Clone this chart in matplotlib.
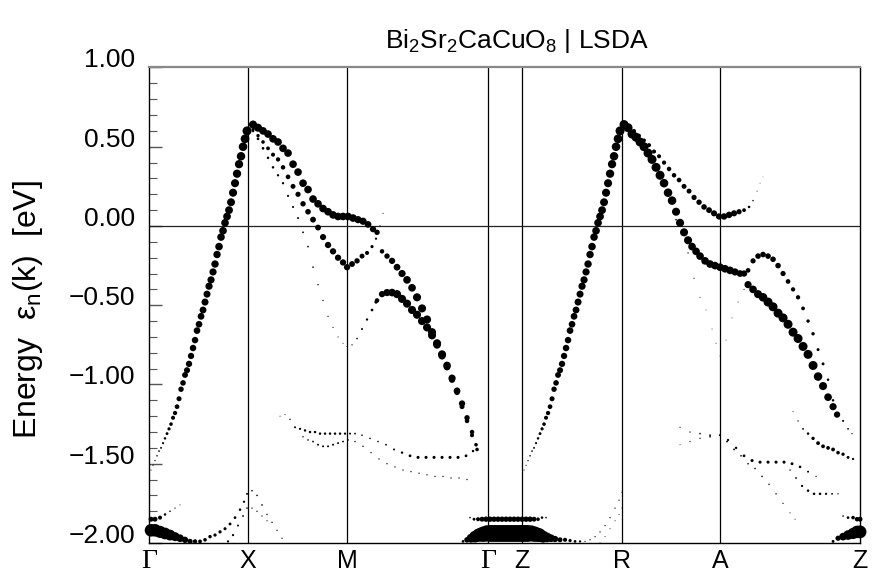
import numpy as np
import matplotlib
matplotlib.use("Agg")
import matplotlib.pyplot as plt
from matplotlib.ticker import MultipleLocator, FuncFormatter

plt.rcParams['font.family'] = ['Liberation Sans', 'DejaVu Sans']

# k-path given as k-point index along the path
sym_k = [0, 99, 198, 339, 373, 473, 571, 711]
sym_labels = ["Γ", "X", "M", "Γ", "Z", "R", "A", "Z"]

# ---- Gamma-X ----
gx_k = [2, 4, 6, 8, 10, 12, 14, 16, 18, 20, 22, 24, 26, 28, 30, 32, 34, 36, 38, 40, 42, 44, 46,
        48, 50, 52, 54, 56, 58, 60, 62, 64, 66, 68, 70, 72, 74, 76, 78, 80, 82, 84, 86, 88, 90,
        92, 94, 96, 98]
gx_e = [-1.54, -1.51, -1.48, -1.45, -1.42, -1.40, -1.37, -1.34, -1.31, -1.28, -1.25, -1.21,
        -1.18, -1.14, -1.09, -1.03, -0.99, -0.94, -0.91, -0.87, -0.82, -0.77, -0.72, -0.66,
        -0.62, -0.57, -0.53, -0.48, -0.43, -0.38, -0.34, -0.29, -0.24, -0.18, -0.13, -0.07,
        -0.03, 0.02, 0.06, 0.10, 0.15, 0.21, 0.27, 0.33, 0.39, 0.44, 0.50, 0.55, 0.60]
gx_w = [0.12, 0.13, 0.15, 0.17, 0.19, 0.21, 0.24, 0.28, 0.32, 0.36, 0.4, 0.45, 0.48, 0.52, 0.56,
        0.6, 0.62, 0.65, 0.67, 0.7, 0.7, 0.72, 0.72, 0.74, 0.74, 0.75, 0.76, 0.78, 0.78, 0.8,
        0.8, 0.8, 0.82, 0.82, 0.84, 0.84, 0.85, 0.85, 0.86, 0.87, 0.88, 0.9, 0.9, 0.92, 0.92,
        0.94, 0.95, 0.97, 1.0]

gx_blob_k = [2, 6, 11, 16, 21, 26, 31, 36, 41, 46, 51, 56, 61, 66, 71, 76, 81, 86, 91, 95, 98]
gx_blob_e = [-1.92, -1.92, -1.93, -1.94, -1.95, -1.96, -1.97, -1.98, -1.99, -1.99, -1.99, -1.98,
             -1.96, -1.95, -1.93, -1.91, -1.88, -1.84, -1.79, -1.74, -1.69]
gx_blob_w = [1.4, 1.4, 1.35, 1.3, 1.2, 1.0, 0.85, 0.7, 0.58, 0.48, 0.42, 0.4, 0.38, 0.36, 0.36,
             0.34, 0.32, 0.3, 0.28, 0.25, 0.22]

gx_185_k = [2, 6, 11, 16, 21, 26, 31]
gx_185_e = [-1.85, -1.85, -1.84, -1.82, -1.80, -1.78, -1.76]
gx_185_w = [0.55, 0.55, 0.45, 0.28, 0.18, 0.14, 0.11]

gx_rise_k = [79, 84, 89, 94, 98]
gx_rise_e = [-1.99, -1.95, -1.89, -1.83, -1.78]
gx_rise_w = [0.25, 0.25, 0.22, 0.2, 0.18]

# ---- X-M-Gamma ----
xm_top_k = [104, 109, 114, 119, 124, 129, 134, 139, 144, 149, 154, 159, 164, 169, 174, 179, 184,
            189, 194, 199, 204, 209, 214, 219, 224, 228]
xm_top_e = [0.64, 0.62, 0.60, 0.58, 0.55, 0.53, 0.49, 0.46, 0.39, 0.34, 0.27, 0.23, 0.17, 0.14,
            0.11, 0.09, 0.07, 0.06, 0.06, 0.06, 0.05, 0.04, 0.03, 0.01, -0.02, -0.04]
xm_top_w = [0.9, 0.9, 0.85, 0.85, 0.85, 0.85, 0.85, 0.85, 0.85, 0.85, 0.85, 0.85, 0.85, 0.85,
            0.85, 0.85, 0.85, 0.85, 0.85, 0.85, 0.85, 0.8, 0.8, 0.75, 0.7, 0.6]

xm_mid_k = [104, 109, 114, 119, 124, 129, 134, 139, 144, 149, 154, 159, 164, 169, 174, 179, 184,
            189, 194, 198, 203, 208, 213, 218, 223, 227, 231, 234]
xm_mid_e = [0.61, 0.57, 0.53, 0.49, 0.45, 0.42, 0.37, 0.31, 0.25, 0.20, 0.14, 0.09, 0.04, -0.01,
            -0.07, -0.12, -0.16, -0.20, -0.23, -0.26, -0.24, -0.22, -0.19, -0.17, -0.13, -0.08,
            0.0, 0.08]
xm_mid_w = [0.35, 0.38, 0.4, 0.42, 0.45, 0.48, 0.5, 0.52, 0.55, 0.58, 0.6, 0.62, 0.65, 0.65,
            0.68, 0.7, 0.7, 0.7, 0.7, 0.7, 0.65, 0.6, 0.55, 0.45, 0.35, 0.25, 0.15, 0.12]

xm_low_k = [104, 109, 114, 119, 124, 129, 134, 139, 144, 149, 154, 159, 164, 169, 174, 179, 184,
            189, 194, 198, 203, 208, 213, 218, 223, 227]
xm_low_e = [0.60, 0.55, 0.49, 0.43, 0.37, 0.32, 0.27, 0.19, 0.12, 0.05, -0.04, -0.13, -0.26,
            -0.37, -0.47, -0.57, -0.64, -0.70, -0.74, -0.76, -0.75, -0.71, -0.65, -0.59, -0.53,
            -0.48]
xm_low_w = [0.3, 0.3, 0.3, 0.28, 0.28, 0.26, 0.26, 0.24, 0.23, 0.22, 0.2, 0.19, 0.18, 0.16, 0.15,
            0.14, 0.13, 0.12, 0.11, 0.11, 0.14, 0.18, 0.22, 0.26, 0.3, 0.36]

mg_up_k = [233, 238, 243, 248, 253, 258, 263, 268, 273, 278, 283, 288, 293, 298, 303, 308, 313,
           318, 323, 327]
mg_up_e = [-0.16, -0.19, -0.22, -0.26, -0.30, -0.34, -0.39, -0.45, -0.52, -0.59, -0.67, -0.74,
           -0.81, -0.88, -0.96, -1.04, -1.12, -1.21, -1.30, -1.38]
mg_up_w = [0.5, 0.6, 0.7, 0.75, 0.8, 0.85, 0.85, 0.9, 0.9, 0.9, 0.9, 0.9, 0.9, 0.85, 0.8, 0.75,
           0.7, 0.6, 0.5, 0.4]

mg_lo_k = [228, 233, 238, 243, 248, 253, 258, 263, 268, 273, 278, 283, 288, 293, 298, 303, 308,
           313, 318, 323, 328]
mg_lo_e = [-0.47, -0.43, -0.42, -0.42, -0.43, -0.46, -0.49, -0.53, -0.56, -0.60, -0.64, -0.69,
           -0.75, -0.82, -0.89, -0.97, -1.05, -1.14, -1.23, -1.32, -1.41]
mg_lo_w = [0.5, 0.7, 0.8, 0.85, 0.9, 0.9, 0.9, 0.9, 0.9, 0.9, 0.9, 0.9, 0.85, 0.8, 0.75, 0.7,
           0.6, 0.55, 0.5, 0.45, 0.4]

xm_fall1_k = [103, 108, 113, 118, 123, 128, 133]
xm_fall1_e = [-1.67, -1.70, -1.76, -1.82, -1.87, -1.92, -1.97]
xm_fall1_w = [0.18, 0.18, 0.18, 0.16, 0.16, 0.15, 0.14]

xm_fall2_k = [103, 108, 113, 118]
xm_fall2_e = [-1.78, -1.80, -1.83, -1.86]
xm_fall2_w = [0.15, 0.15, 0.14, 0.13]

xm_f1_k = [131, 136, 141, 146, 151, 156, 161, 166, 171, 176, 181, 186, 191, 196, 201, 206, 213,
           221, 229, 237, 245, 253, 261, 269, 277, 285, 293, 301, 309, 317, 324]
xm_f1_e = [-1.20, -1.19, -1.22, -1.27, -1.28, -1.29, -1.30, -1.30, -1.31, -1.31, -1.31, -1.31,
           -1.31, -1.31, -1.31, -1.31, -1.32, -1.34, -1.36, -1.38, -1.41, -1.43, -1.45, -1.46,
           -1.46, -1.46, -1.46, -1.46, -1.46, -1.45, -1.42]
xm_f1_w = [0.11, 0.11, 0.16, 0.22, 0.25, 0.27, 0.27, 0.27, 0.27, 0.27, 0.27, 0.27, 0.27, 0.25,
           0.22, 0.2, 0.18, 0.18, 0.18, 0.2, 0.22, 0.27, 0.31, 0.34, 0.34, 0.34, 0.34, 0.34, 0.34,
           0.31, 0.27]

xm_f2_k = [154, 159, 164, 169, 174, 179, 184, 189, 194, 199, 206, 214, 222, 230, 238, 246, 254,
           262, 270, 278, 286, 294, 302, 310, 318]
xm_f2_e = [-1.33, -1.35, -1.36, -1.38, -1.39, -1.39, -1.38, -1.37, -1.36, -1.35, -1.36, -1.39,
           -1.43, -1.47, -1.50, -1.52, -1.54, -1.55, -1.56, -1.57, -1.58, -1.58, -1.59, -1.59,
           -1.60]
xm_f2_w = [0.16, 0.18, 0.2, 0.22, 0.22, 0.22, 0.22, 0.22, 0.2, 0.18, 0.16, 0.16, 0.15, 0.15, 0.15,
           0.15, 0.15, 0.15, 0.15, 0.15, 0.15, 0.15, 0.15, 0.15, 0.15]

# ---- Gamma-Z and bottom of the window ----
gz_185_k = [321, 325, 329, 333, 337, 341, 345, 349, 353, 357, 361, 365, 369, 373, 377, 381, 385,
            389, 393, 397]
gz_185_e = [-1.84, -1.85, -1.85, -1.85, -1.85, -1.85, -1.85, -1.85, -1.85, -1.85, -1.85, -1.85,
            -1.85, -1.85, -1.85, -1.85, -1.85, -1.85, -1.84, -1.84]
gz_185_w = [0.18, 0.32, 0.45, 0.55, 0.6, 0.6, 0.6, 0.6, 0.6, 0.6, 0.6, 0.6, 0.6, 0.6, 0.6, 0.6,
            0.55, 0.4, 0.28, 0.18]

gz_blob_k = [314, 318, 322, 326, 330, 334, 338, 342, 346, 350, 354, 358, 362, 366, 370, 374, 378,
             382, 386, 390, 394, 398, 402, 406, 411, 416, 421, 426, 431]
gz_blob_e = [-1.99, -1.98, -1.97, -1.96, -1.95, -1.945, -1.94, -1.94, -1.94, -1.94, -1.94, -1.94,
             -1.94, -1.94, -1.94, -1.94, -1.94, -1.94, -1.945, -1.95, -1.96, -1.965, -1.97,
             -1.975, -1.98, -1.98, -1.985, -1.99, -1.99]
gz_blob_w = [0.3, 0.62, 0.98, 1.3, 1.5, 1.7, 1.82, 1.88, 1.88, 1.88, 1.88, 1.88, 1.88, 1.88, 1.88,
             1.88, 1.88, 1.8, 1.7, 1.55, 1.33, 1.07, 0.85, 0.7, 0.55, 0.45, 0.36, 0.3, 0.25]

# ---- Z-R (main band has the same shape as Gamma-X) ----
zr_k = [373 + k for k in gx_k]
zr_e = gx_e
zr_w = gx_w

zr_rise1_k = [436, 441, 446, 451, 456, 461, 466, 470, 473]
zr_rise1_e = [-1.99, -1.98, -1.96, -1.93, -1.89, -1.84, -1.78, -1.73, -1.68]
zr_rise1_w = [0.14, 0.14, 0.14, 0.14, 0.14, 0.14, 0.14, 0.14, 0.14]

zr_rise2_k = [451, 456, 461, 466, 470, 473]
zr_rise2_e = [-2.0, -1.96, -1.91, -1.86, -1.82, -1.78]
zr_rise2_w = [0.11, 0.11, 0.11, 0.11, 0.11, 0.11]

# ---- R-A-Z ----
ra_top_k = [475, 480, 485, 490, 495, 500, 505, 510, 515, 520, 525, 530, 535, 540, 545, 550, 555,
            560, 565, 570, 575, 580, 585, 590, 595, 600, 604, 608, 611, 614]
ra_top_e = [0.64, 0.62, 0.60, 0.57, 0.54, 0.51, 0.47, 0.44, 0.40, 0.36, 0.32, 0.29, 0.25, 0.22,
            0.18, 0.15, 0.12, 0.10, 0.08, 0.06, 0.06, 0.07, 0.08, 0.09, 0.10, 0.12, 0.16, 0.22,
            0.27, 0.31]
ra_top_w = [0.42, 0.42, 0.42, 0.42, 0.42, 0.45, 0.45, 0.45, 0.47, 0.5, 0.5, 0.52, 0.55, 0.55, 0.58,
            0.6, 0.62, 0.65, 0.68, 0.7, 0.72, 0.72, 0.68, 0.58, 0.42, 0.28, 0.17, 0.11, 0.09, 0.07]

ra_thk_k = [475, 479, 483, 487, 491, 495, 499, 503, 507, 511, 515, 519, 523, 527, 531, 535, 539,
            543, 547, 551, 556, 561, 566, 571, 576, 581, 586, 591, 595]
ra_thk_e = [0.64, 0.62, 0.58, 0.56, 0.53, 0.50, 0.46, 0.42, 0.37, 0.32, 0.27, 0.21, 0.16, 0.09,
            0.02, -0.04, -0.09, -0.13, -0.16, -0.19, -0.22, -0.24, -0.25, -0.26, -0.27, -0.28,
            -0.29, -0.30, -0.30]
ra_thk_w = [1.0, 1.0, 1.0, 1.0, 1.0, 1.0, 1.0, 1.0, 1.0, 1.0, 0.95, 0.95, 0.95, 0.9, 0.9, 0.9,
            0.9, 0.85, 0.85, 0.85, 0.85, 0.85, 0.85, 0.85, 0.85, 0.85, 0.8, 0.75, 0.7]

ra_sml_k = [483, 491, 499, 507, 515, 521, 527, 533, 539, 545, 551, 557, 563, 567, 571, 577, 583,
            589, 595]
ra_sml_e = [0.60, 0.54, 0.45, 0.38, 0.26, 0.15, 0.04, -0.05, -0.17, -0.33, -0.45, -0.53, -0.65,
            -0.74, -0.82, -0.72, -0.58, -0.48, -0.40]
ra_sml_w = [0.28, 0.28, 0.26, 0.24, 0.22, 0.2, 0.18, 0.16, 0.15, 0.13, 0.11, 0.1, 0.1, 0.1, 0.1,
            0.1, 0.1, 0.11, 0.13]

az_up_k = [599, 604, 609, 614, 619, 624, 629, 634, 639, 644, 649, 654, 659, 664, 669, 674, 679,
           684, 689, 694, 699, 703]
az_up_e = [-0.28, -0.22, -0.19, -0.18, -0.19, -0.21, -0.25, -0.30, -0.35, -0.40, -0.45, -0.52,
           -0.60, -0.68, -0.78, -0.87, -0.97, -1.10, -1.18, -1.23, -1.28, -1.31]
az_up_w = [0.52, 0.58, 0.62, 0.62, 0.62, 0.62, 0.62, 0.58, 0.52, 0.48, 0.48, 0.42, 0.38, 0.38,
           0.33, 0.33, 0.28, 0.28, 0.26, 0.23, 0.19, 0.14]

az_lo_k = [599, 604, 609, 614, 619, 624, 629, 634, 639, 644, 649, 654, 659, 664, 669, 674, 679,
           684, 688]
az_lo_e = [-0.37, -0.40, -0.43, -0.45, -0.48, -0.51, -0.55, -0.58, -0.62, -0.67, -0.71, -0.76,
           -0.81, -0.88, -0.95, -1.01, -1.08, -1.14, -1.19]
az_lo_w = [0.8, 0.85, 0.9, 0.95, 1.0, 1.0, 1.0, 1.0, 1.0, 1.0, 1.0, 1.0, 1.0, 1.0, 0.95, 0.9,
           0.85, 0.8, 0.7]

raz_f1_k = [531, 541, 551, 561, 571, 579, 587, 595, 603, 611, 619, 627, 635, 643, 651, 659, 667]
raz_f1_e = [-1.27, -1.30, -1.31, -1.32, -1.32, -1.35, -1.40, -1.45, -1.48, -1.49, -1.49, -1.49,
            -1.49, -1.50, -1.52, -1.55, -1.58]
raz_f1_w = [0.13, 0.15, 0.18, 0.2, 0.22, 0.25, 0.27, 0.3, 0.34, 0.34, 0.34, 0.34, 0.34, 0.32,
            0.29, 0.22, 0.15]

raz_f2_k = [531, 541, 551, 561, 571, 578, 585, 592, 599, 606, 613, 620, 627, 634, 641, 646]
raz_f2_e = [-1.38, -1.36, -1.34, -1.33, -1.32, -1.36, -1.41, -1.45, -1.50, -1.53, -1.58, -1.63,
            -1.69, -1.75, -1.81, -1.85]
raz_f2_w = [0.11, 0.13, 0.15, 0.18, 0.2, 0.2, 0.2, 0.18, 0.18, 0.18, 0.18, 0.16, 0.16, 0.14, 0.12,
            0.11]

az_f3_k = [641, 647, 653, 659, 665, 671, 677, 683, 689]
az_f3_e = [-1.54, -1.59, -1.64, -1.67, -1.69, -1.69, -1.69, -1.69, -1.69]
az_f3_w = [0.16, 0.2, 0.25, 0.28, 0.28, 0.28, 0.25, 0.2, 0.15]

az_f4_k = [644, 649, 654, 659, 664, 669, 674, 679, 684, 689, 694, 699, 704]
az_f4_e = [-1.17, -1.23, -1.28, -1.31, -1.34, -1.37, -1.39, -1.40, -1.41, -1.43, -1.44, -1.46,
           -1.47]
az_f4_w = [0.11, 0.15, 0.2, 0.28, 0.37, 0.42, 0.42, 0.42, 0.42, 0.4, 0.37, 0.32, 0.25]

az_blob_k = [684, 689, 694, 699, 704, 708, 711]
az_blob_e = [-1.99, -1.97, -1.96, -1.95, -1.94, -1.93, -1.93]
az_blob_w = [0.32, 0.58, 0.85, 1.07, 1.25, 1.38, 1.42]

az_185_k = [694, 699, 704, 708, 711]
az_185_e = [-1.83, -1.84, -1.84, -1.85, -1.85]
az_185_w = [0.18, 0.3, 0.4, 0.5, 0.55]

bands = [
    (gx_k, gx_e, gx_w), (gx_blob_k, gx_blob_e, gx_blob_w), (gx_185_k, gx_185_e, gx_185_w),
    (gx_rise_k, gx_rise_e, gx_rise_w), (xm_top_k, xm_top_e, xm_top_w),
    (xm_mid_k, xm_mid_e, xm_mid_w), (xm_low_k, xm_low_e, xm_low_w),
    (mg_up_k, mg_up_e, mg_up_w), (mg_lo_k, mg_lo_e, mg_lo_w),
    (xm_fall1_k, xm_fall1_e, xm_fall1_w), (xm_fall2_k, xm_fall2_e, xm_fall2_w),
    (xm_f1_k, xm_f1_e, xm_f1_w), (xm_f2_k, xm_f2_e, xm_f2_w),
    (gz_185_k, gz_185_e, gz_185_w), (gz_blob_k, gz_blob_e, gz_blob_w),
    (zr_k, zr_e, zr_w), (zr_rise1_k, zr_rise1_e, zr_rise1_w), (zr_rise2_k, zr_rise2_e, zr_rise2_w),
    (ra_top_k, ra_top_e, ra_top_w), (ra_thk_k, ra_thk_e, ra_thk_w), (ra_sml_k, ra_sml_e, ra_sml_w),
    (az_up_k, az_up_e, az_up_w), (az_lo_k, az_lo_e, az_lo_w),
    (raz_f1_k, raz_f1_e, raz_f1_w), (raz_f2_k, raz_f2_e, raz_f2_w),
    (az_f3_k, az_f3_e, az_f3_w), (az_f4_k, az_f4_e, az_f4_w),
    (az_blob_k, az_blob_e, az_blob_w), (az_185_k, az_185_e, az_185_w),
]

DOT = 9 * 0.72   # diameter (points) of a dot with weight 1

fig = plt.figure(figsize=(8.72, 5.73), dpi=100)
ax = fig.add_axes([0.1709, 0.0524, 0.8154, 0.8298])

for k, e, w in bands:
    ax.scatter(k, e, s=(np.asarray(w) * DOT) ** 2, c='k', linewidths=0,
               clip_on=False, zorder=3)

for ks in sym_k[1:-1]:
    ax.axvline(ks, color='k', lw=0.9, zorder=2)
ax.axhline(0.0, color='#222222', lw=0.9, zorder=2)

ax.set_xlim(sym_k[0], sym_k[-1])
ax.set_ylim(-2.0, 1.0)

ax.set_xticks(sym_k)
ax.set_xticklabels(sym_labels, fontsize=18)
for lab in ax.get_xticklabels():
    if lab.get_text() == "Γ":
        lab.set_fontfamily('Liberation Serif')
        lab.set_fontsize(20)
ax.tick_params(axis='x', length=0, pad=4)

ax.yaxis.set_major_locator(MultipleLocator(0.5))
ax.yaxis.set_minor_locator(MultipleLocator(0.1))
ax.yaxis.set_major_formatter(FuncFormatter(lambda v, p: ("%.2f" % v).replace('-', '\u2212')))
ax.tick_params(axis='y', which='both', direction='in', left=True, right=False, color='#555555')
ax.tick_params(axis='y', which='major', length=9, width=1.0, labelsize=19, pad=10)
ax.tick_params(axis='y', which='minor', length=6, width=0.8)
plt.setp(ax.get_yticklabels(), va='baseline')

for side in ['left', 'bottom', 'right']:
    ax.spines[side].set_linewidth(1.0)
ax.spines['top'].set_color('#888888')
ax.spines['top'].set_linewidth(1.6)

ax.set_title(r"Bi$_\mathregular{2}$Sr$_\mathregular{2}$CaCuO$_\mathregular{8}$ | LSDA",
             fontsize=19, pad=14, x=0.517)
ax.set_ylabel(r"Energy  ε$_\mathregular{n}$(k)  [eV]", fontsize=23)
ax.yaxis.set_label_coords(-0.146, 0.49)

fig.savefig("out.png", dpi=100)
